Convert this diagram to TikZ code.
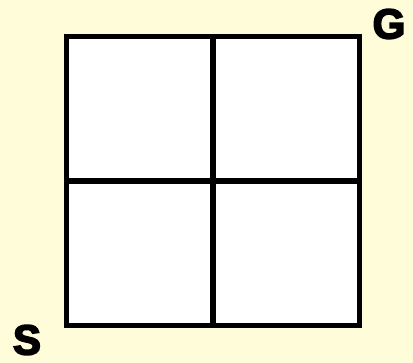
\documentclass[tikz,border=0pt]{standalone}
\usepackage{fontspec}
\setmainfont{Liberation Sans}
\newfontfamily\heavyfont[FakeBold=4]{Liberation Sans Bold}
\usetikzlibrary{positioning}
\definecolor{gwBack}{HTML}{FFFCDA}
\tikzset{
  cell/.style={
    draw, fill=white, line width=5.5pt, outer sep=0pt, inner sep=0pt,
    minimum width=146.5pt, minimum height=144.5pt
  },
  corner/.style={font=\fontsize{42}{42}\selectfont\heavyfont, inner sep=0pt}
}
\begin{document}
\begin{tikzpicture}[x=1pt, y=1pt, node distance=0pt]
  \fill[gwBack] (0,0) rectangle (413,363);
  \useasboundingbox (0,0) rectangle (413,363);
  \node[cell] (c11) at (139.75,254.25) {};
  \node[cell, right=of c11] (c12) {};
  \node[cell, below=of c11] (c21) {};
  \node[cell, right=of c21] (c22) {};
  \node[corner] (start) at (27,23) {S};
  \node[corner] (goal) at (389,339) {G};
\end{tikzpicture}
\end{document}
